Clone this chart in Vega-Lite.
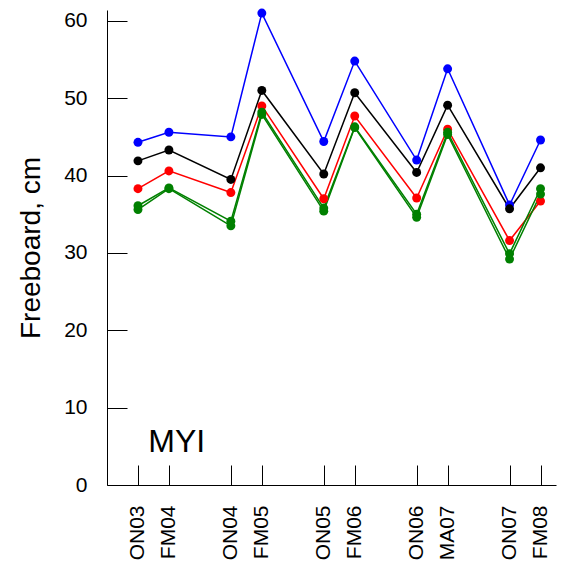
{
  "$schema": "https://vega.github.io/schema/vega-lite/v6.json",
  "width": 449,
  "height": 475,
  "autosize": "none",
  "padding": {"left": 107, "top": 10, "right": 11, "bottom": 77},
  "background": "white",
  "config": {"view": {"stroke": null}, "font": "Liberation Sans"},
  "datasets": {
    "fb": [
      {"c":"ON03","t":0,"s":"blue","v":44.3},{"c":"FM04","t":1,"s":"blue","v":45.6},{"c":"ON04","t":3,"s":"blue","v":45.0},{"c":"FM05","t":4,"s":"blue","v":61.0},{"c":"ON05","t":6,"s":"blue","v":44.4},{"c":"FM06","t":7,"s":"blue","v":54.8},{"c":"ON06","t":9,"s":"blue","v":42.0},{"c":"MA07","t":10,"s":"blue","v":53.8},{"c":"ON07","t":12,"s":"blue","v":36.2},{"c":"FM08","t":13,"s":"blue","v":44.6},
      {"c":"ON03","t":0,"s":"black","v":41.9},{"c":"FM04","t":1,"s":"black","v":43.3},{"c":"ON04","t":3,"s":"black","v":39.5},{"c":"FM05","t":4,"s":"black","v":51.0},{"c":"ON05","t":6,"s":"black","v":40.2},{"c":"FM06","t":7,"s":"black","v":50.7},{"c":"ON06","t":9,"s":"black","v":40.4},{"c":"MA07","t":10,"s":"black","v":49.1},{"c":"ON07","t":12,"s":"black","v":35.7},{"c":"FM08","t":13,"s":"black","v":41.0},
      {"c":"ON03","t":0,"s":"red","v":38.3},{"c":"FM04","t":1,"s":"red","v":40.6},{"c":"ON04","t":3,"s":"red","v":37.8},{"c":"FM05","t":4,"s":"red","v":49.0},{"c":"ON05","t":6,"s":"red","v":37.0},{"c":"FM06","t":7,"s":"red","v":47.7},{"c":"ON06","t":9,"s":"red","v":37.1},{"c":"MA07","t":10,"s":"red","v":46.0},{"c":"ON07","t":12,"s":"red","v":31.6},{"c":"FM08","t":13,"s":"red","v":36.7},
      {"c":"ON03","t":0,"s":"green1","v":36.1},{"c":"FM04","t":1,"s":"green1","v":38.4},{"c":"ON04","t":3,"s":"green1","v":34.1},{"c":"FM05","t":4,"s":"green1","v":48.2},{"c":"ON05","t":6,"s":"green1","v":35.8},{"c":"FM06","t":7,"s":"green1","v":46.3},{"c":"ON06","t":9,"s":"green1","v":35.0},{"c":"MA07","t":10,"s":"green1","v":45.6},{"c":"ON07","t":12,"s":"green1","v":29.9},{"c":"FM08","t":13,"s":"green1","v":38.3},
      {"c":"ON03","t":0,"s":"green2","v":35.6},{"c":"FM04","t":1,"s":"green2","v":38.3},{"c":"ON04","t":3,"s":"green2","v":33.5},{"c":"FM05","t":4,"s":"green2","v":47.9},{"c":"ON05","t":6,"s":"green2","v":35.4},{"c":"FM06","t":7,"s":"green2","v":46.2},{"c":"ON06","t":9,"s":"green2","v":34.6},{"c":"MA07","t":10,"s":"green2","v":45.3},{"c":"ON07","t":12,"s":"green2","v":29.2},{"c":"FM08","t":13,"s":"green2","v":37.6}
    ]
  },
  "layer": [
    {
      "data": {"name": "fb"},
      "mark": {"type": "line", "strokeWidth": 1.5, "point": {"size": 80, "filled": true, "opacity": 1}},
      "encoding": {
        "x": {"field": "t", "type": "quantitative", "scale": {"domain": [-1, 13.5], "nice": false, "zero": false},
          "axis": {"values": [0,1,3,4,6,7,9,10,12,13], "domain": true, "domainColor": "black", "grid": false, "tickSize": -20, "tickColor": "black",
            "labelExpr": "{'0':'ON03','1':'FM04','3':'ON04','4':'FM05','6':'ON05','7':'FM06','9':'ON06','10':'MA07','12':'ON07','13':'FM08'}[datum.value]",
            "labelAngle": -90, "labelAlign": "right", "labelBaseline": "middle", "labelFontSize": 21, "labelColor": "black", "labelPadding": 40, "title": null}},
        "y": {"field": "v", "type": "quantitative", "scale": {"domain": [0, 61.4], "nice": false},
          "axis": {"values": [0,10,20,30,40,50,60], "grid": false, "domainColor": "black", "tickColor": "black", "tickSize": -20, "labelFontSize": 21, "labelColor": "black", "labelPadding": 40,
            "title": "Freeboard, cm", "titleFontSize": 28, "titleFontWeight": "normal", "titleColor": "black", "titlePadding": 18}},
        "color": {"field": "s", "type": "nominal", "legend": null,
          "scale": {"domain": ["blue","black","red","green1","green2"], "range": ["#0000ff","#000000","#ff0000","#008000","#008000"]}},
        "detail": {"field": "s"}
      }
    },
    {
      "data": {"values": [{"t": 1.25, "v": 5.6, "label": "MYI"}]},
      "mark": {"type": "text", "fontSize": 32, "color": "black", "align": "center"},
      "encoding": {
        "x": {"field": "t", "type": "quantitative"},
        "y": {"field": "v", "type": "quantitative"},
        "text": {"field": "label"}
      }
    }
  ]
}
